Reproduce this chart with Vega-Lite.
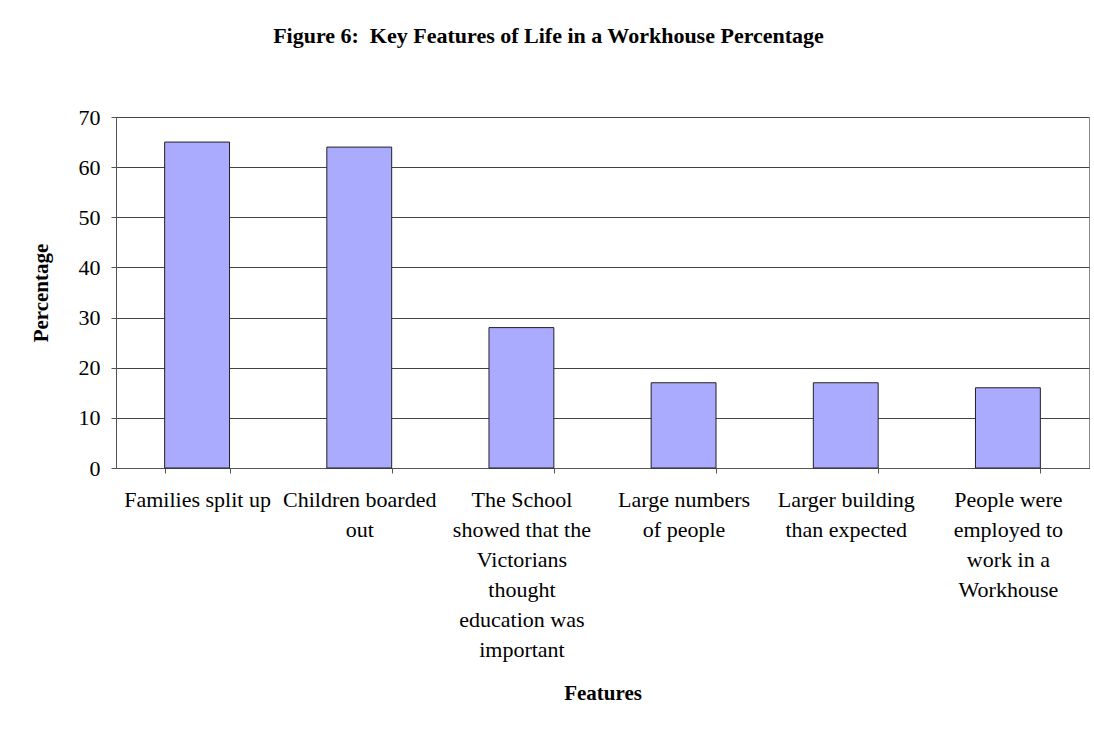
{
  "$schema": "https://vega.github.io/schema/vega-lite/v6.json",
  "width": 973,
  "height": 351,
  "autosize": {"type": "none"},
  "padding": {"left": 116, "top": 117, "right": 5, "bottom": 264},
  "background": "white",
  "title": {
    "text": "Figure 6:\u00a0 Key Features of Life in a Workhouse Percentage",
    "font": "Liberation Serif",
    "fontSize": 22,
    "fontWeight": "bold",
    "color": "#000000",
    "anchor": "middle",
    "dx": -54,
    "offset": 58
  },
  "data": {
    "values": [
      {"feature": "Families split up", "percentage": 65},
      {"feature": "Children boarded|out", "percentage": 64},
      {"feature": "The School|showed that the|Victorians|thought|education was|important", "percentage": 28},
      {"feature": "Large numbers|of people", "percentage": 17},
      {"feature": "Larger building|than expected", "percentage": 17},
      {"feature": "People were|employed to|work in a|Workhouse", "percentage": 16}
    ]
  },
  "mark": {"type": "bar", "fill": "#aaaaff", "stroke": "#222222", "strokeWidth": 1},
  "encoding": {
    "x": {
      "field": "feature",
      "type": "nominal",
      "sort": null,
      "scale": {"paddingInner": 0.6, "paddingOuter": 0.3},
      "axis": {
        "title": "Features",
        "labelExpr": "split(datum.label, '|')",
        "labelAngle": 0,
        "labelLimit": 0,
        "labelLineHeight": 30,
        "labelPadding": 26,
        "labelBaseline": "middle",
        "tickBand": "extent",
        "tickSize": 5,
        "titlePadding": 22
      }
    },
    "y": {
      "field": "percentage",
      "type": "quantitative",
      "scale": {"domain": [0, 70]},
      "axis": {
        "title": "Percentage",
        "values": [0, 10, 20, 30, 40, 50, 60, 70],
        "grid": true,
        "tickSize": 5,
        "labelPadding": 11,
        "titlePadding": 27
      }
    }
  },
  "config": {
    "view": {"stroke": "#888888", "strokeWidth": 1},
    "axis": {
      "labelFont": "Liberation Serif",
      "labelFontSize": 22,
      "labelColor": "#000000",
      "titleFont": "Liberation Serif",
      "titleFontSize": 21,
      "titleFontWeight": "bold",
      "titleColor": "#000000",
      "domainColor": "#555555",
      "tickColor": "#555555",
      "gridColor": "#444444",
      "gridOpacity": 1
    }
  }
}
